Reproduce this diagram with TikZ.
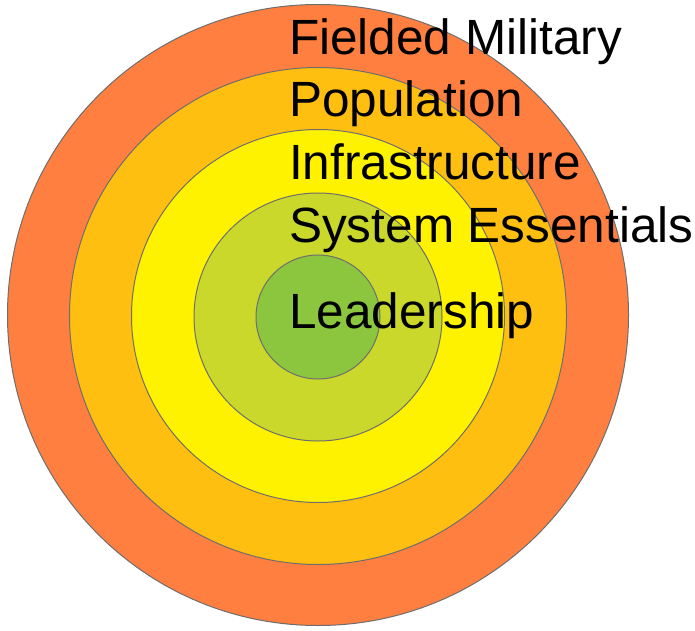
\documentclass[tikz,border=0pt]{standalone}
\usepackage{fontspec}
\setmainfont{Liberation Sans}
\usepackage{tikz}
\definecolor{orange}{RGB}{255,127,64}
\definecolor{gold}{RGB}{255,191,16}
\definecolor{yellow}{RGB}{255,242,0}
\definecolor{lime}{RGB}{201,216,42}
\definecolor{green}{RGB}{140,198,63}
\definecolor{edge}{RGB}{110,110,110}

\begin{document}
\begin{tikzpicture}[x=1pt, y=1pt, ring/.style = {shape=circle, draw=edge, line width=1pt, inner sep=0pt}, txt/.style = {anchor=base west, inner sep=0pt, font=\fontsize{49.5}{58}\selectfont}]
	\useasboundingbox (0,0) rectangle (695,630);
	\node[ring, fill=orange, minimum size=621pt] (military) at (318,315) {};
	\node[ring, fill=gold, minimum size=497pt] (population) at (318,314) {};
	\node[ring, fill=yellow, minimum size=373pt] (infra) at (318,314) {};
	\node[ring, fill=lime, minimum size=248pt] (essentials) at (318,313) {};
	\node[ring, fill=green, minimum size=124pt] (leader) at (318,313) {};
	\node[txt] (tmilitary) at (289,575) {Fielded Military};
	\node[txt] (tpopulation) at (289,513) {Population};
	\node[txt] (tinfra) at (289,450) {Infrastructure};
	\node[txt] (tessentials) at (289,388) {System Essentials};
	\node[txt] (tleader) at (289,302) {Leadership};
\end{tikzpicture}
\end{document}
